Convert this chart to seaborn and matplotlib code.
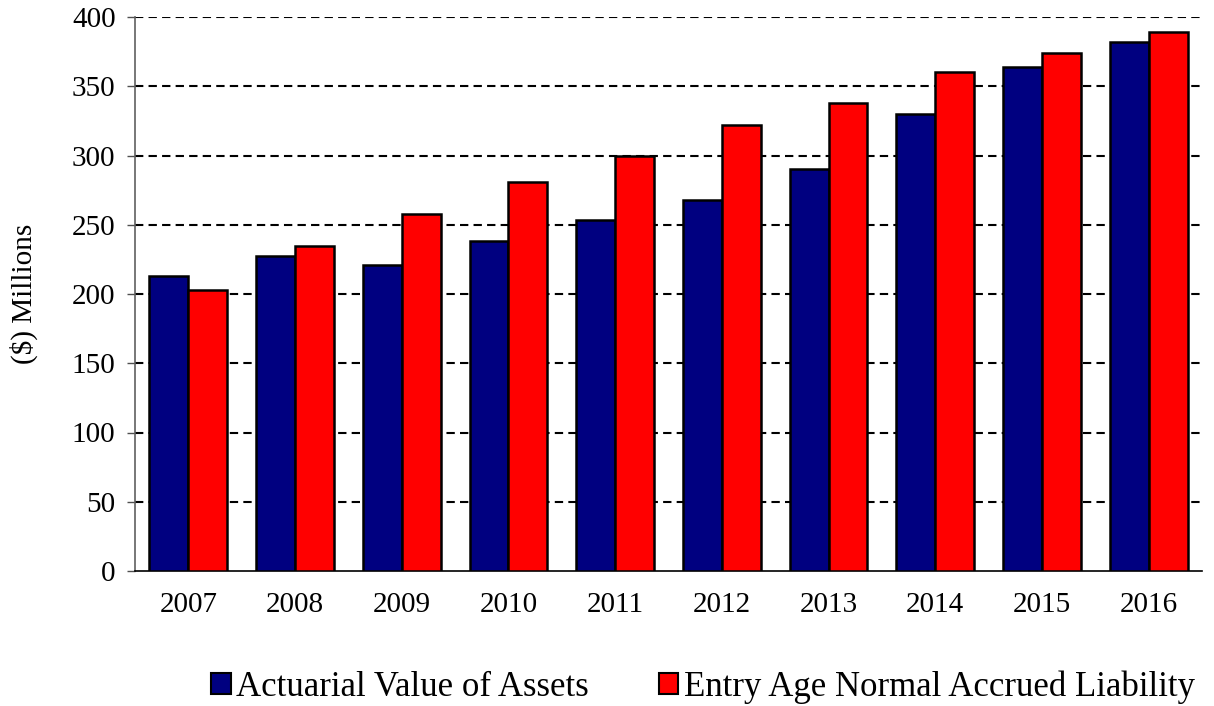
import matplotlib
matplotlib.use("Agg")
import matplotlib.pyplot as plt
import seaborn as sns
import pandas as pd
import numpy as np

years = ["2007", "2008", "2009", "2010", "2011", "2012", "2013", "2014", "2015", "2016"]
assets = [213, 227.5, 221, 238, 253.5, 268, 290, 330, 364, 382]
liability = [203, 234.5, 258, 281, 300, 322, 338, 360, 374, 389.5]
series_names = ["Actuarial Value of Assets", "Entry Age Normal Accrued Liability"]
colors = ["#000080", "#FF0000"]
yticks = [0, 50, 100, 150, 200, 250, 300, 350, 400]

df = pd.DataFrame({
    "Year": years * 2,
    "Value": assets + liability,
    "Series": [series_names[0]] * len(years) + [series_names[1]] * len(years),
})

sns.set_style("white")
plt.rcParams["font.family"] = ["Liberation Serif", "DejaVu Serif"]
plt.rcParams["text.color"] = "black"
plt.rcParams["axes.labelcolor"] = "black"
plt.rcParams["xtick.color"] = "black"
plt.rcParams["ytick.color"] = "black"

fig = plt.figure(figsize=(12.14, 7.06), dpi=100)
ax = fig.add_axes([135 / 1214, 1 - 571 / 706, (1202 - 135) / 1214, (571 - 17) / 706])

sns.barplot(data=df, x="Year", y="Value", hue="Series", palette=colors,
            order=years, hue_order=series_names, width=0.73,
            edgecolor="black", linewidth=1.8, saturation=1, ax=ax, zorder=3)

ax.set_ylim(0, 400)
ax.set_xlim(-0.5, len(years) - 0.5)
ax.set_yticks(yticks)
ax.set_yticklabels([str(t) for t in yticks], fontsize=21)
ax.set_xticks(range(len(years)))
ax.set_xticklabels(years, fontsize=21)
ax.tick_params(axis="x", which="major", length=0, pad=15)
ax.set_xticks(np.arange(-0.5, len(years), 1.0), minor=True)
ax.tick_params(axis="x", which="minor", length=7, width=1, direction="out", color="#505050")
ax.tick_params(axis="y", length=6, width=1, direction="out", color="#505050", left=True, pad=8)

for y in yticks[1:]:
    ax.axhline(y, color="black", linestyle=(0, (4, 2.5)), linewidth=1.5, zorder=1)

for s in ["top", "right"]:
    ax.spines[s].set_visible(False)
ax.spines["left"].set_color("#606060")
ax.spines["left"].set_linewidth(1.2)
ax.spines["bottom"].set_color("black")
ax.spines["bottom"].set_linewidth(1.2)

ax.set_xlabel("")
ax.set_ylabel("($) Millions", fontsize=21, labelpad=24)

ax.legend(loc="center", bbox_to_anchor=(703 / 1214, 1 - 687 / 706), bbox_transform=fig.transFigure,
          ncol=2, frameon=False, fontsize=25, handlelength=0.55, handleheight=0.55,
          handletextpad=0.17, columnspacing=2.0)
for h in ax.get_legend().legend_handles:
    h.set_edgecolor("black")
    h.set_linewidth(1.5)

fig.savefig("out.png", dpi=100)
